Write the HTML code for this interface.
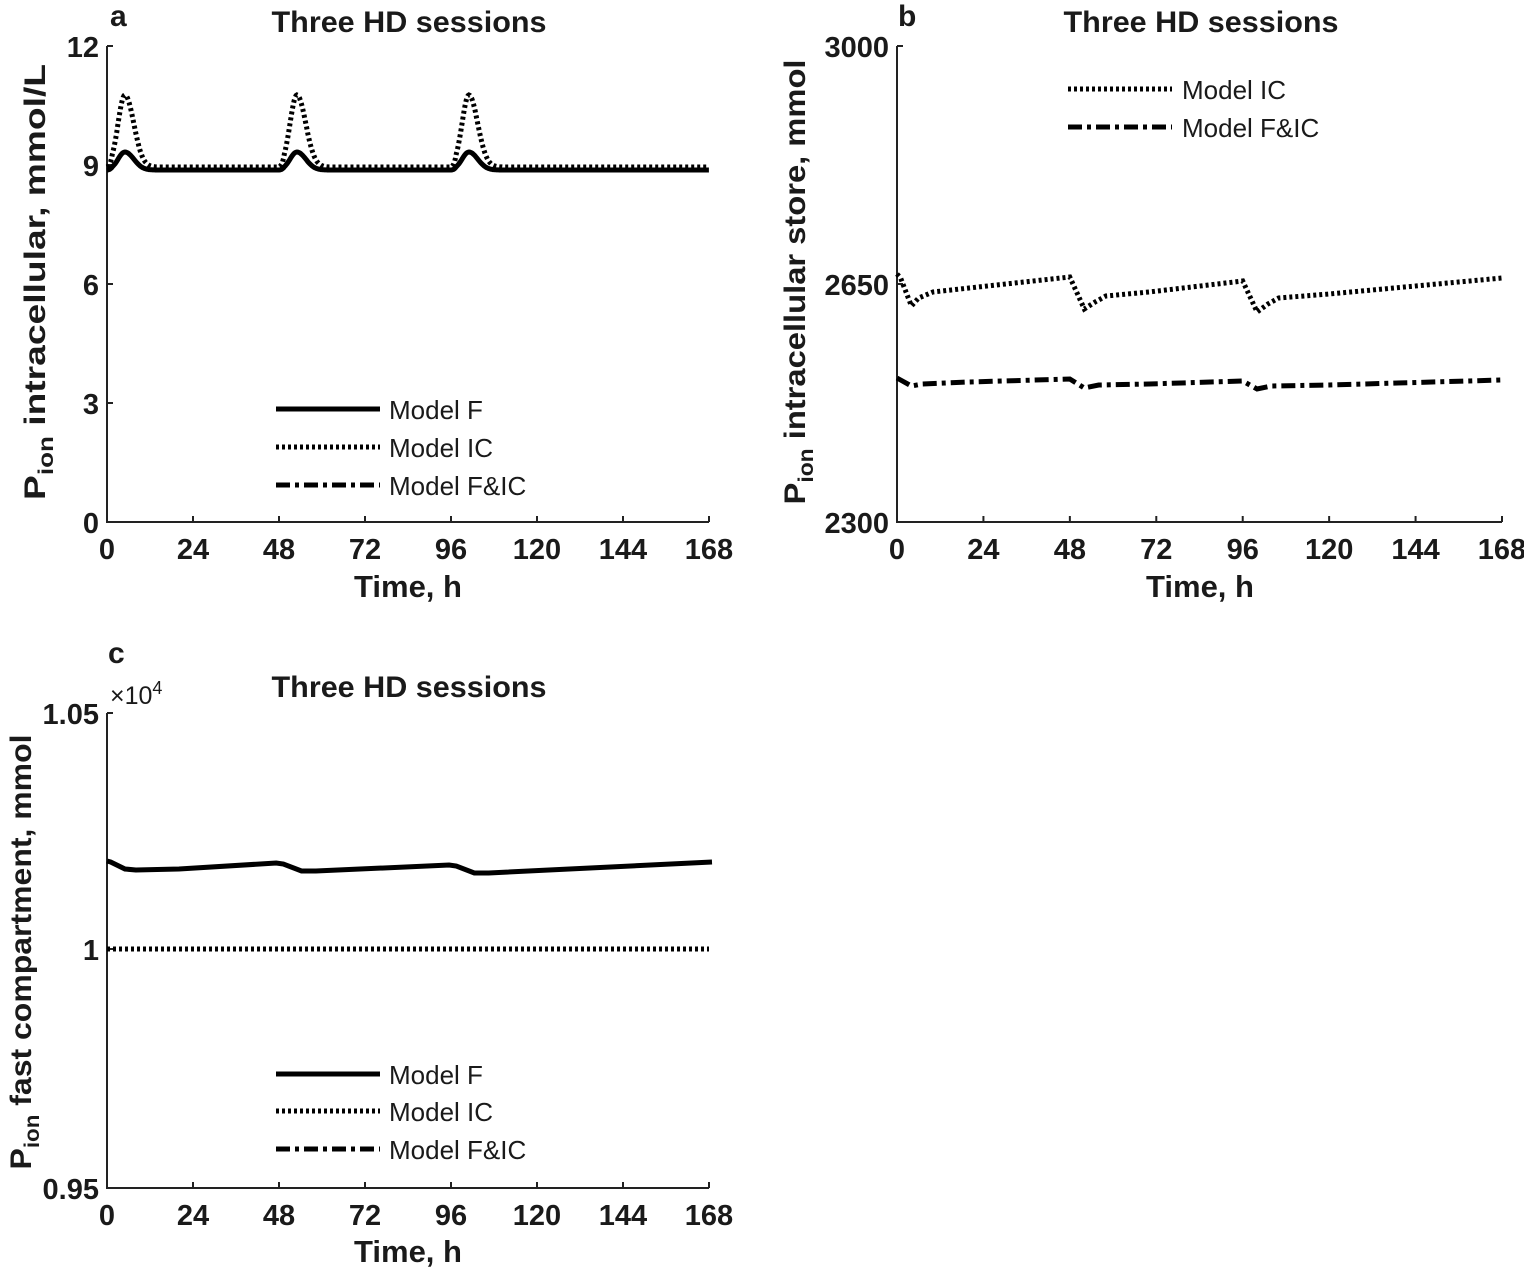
<!DOCTYPE html>
<html><head><meta charset="utf-8"><style>
html,body{margin:0;padding:0;background:#fff;}
svg{display:block;}
text{font-family:"Liberation Sans",sans-serif;fill:#1a1a1a;}
.b{font-weight:bold;}
</style></head><body>
<svg id="s" width="1524" height="1268" viewBox="0 0 1524 1268" xmlns="http://www.w3.org/2000/svg">
<g id="axes" stroke="#222" stroke-width="2" fill="none"></g>
<g id="lines" fill="none" stroke="#000"></g>
<g id="txt"></g>
<text x="110" y="26" class="b" font-size="30">a</text>
<text x="409" y="32" class="b" font-size="30" text-anchor="middle" textLength="275" lengthAdjust="spacingAndGlyphs">Three HD sessions</text>
<text x="898" y="26" class="b" font-size="30">b</text>
<text x="1201" y="32" class="b" font-size="30" text-anchor="middle" textLength="275" lengthAdjust="spacingAndGlyphs">Three HD sessions</text>
<text x="108" y="663" class="b" font-size="30">c</text>
<text x="409" y="697" class="b" font-size="30" text-anchor="middle" textLength="275" lengthAdjust="spacingAndGlyphs">Three HD sessions</text>
<text x="110" y="704" font-size="25">×10<tspan font-size="18" dy="-10">4</tspan></text>
<text x="408" y="597" class="b" font-size="31" text-anchor="middle">Time, h</text>
<text x="1200" y="597" class="b" font-size="31" text-anchor="middle">Time, h</text>
<text x="408" y="1262" class="b" font-size="31" text-anchor="middle">Time, h</text>
<text transform="translate(45,282) rotate(-90)" class="b" font-size="30" text-anchor="middle" textLength="436" lengthAdjust="spacingAndGlyphs">P<tspan font-size="21" dy="8">ion</tspan><tspan dy="-8"> intracellular, mmol/L</tspan></text>
<text transform="translate(805,282) rotate(-90)" class="b" font-size="30" text-anchor="middle" textLength="445" lengthAdjust="spacingAndGlyphs">P<tspan font-size="21" dy="8">ion</tspan><tspan dy="-8"> intracellular store, mmol</tspan></text>
<text transform="translate(31,952) rotate(-90)" class="b" font-size="30" text-anchor="middle" textLength="435" lengthAdjust="spacingAndGlyphs">P<tspan font-size="21" dy="8">ion</tspan><tspan dy="-8"> fast compartment, mmol</tspan></text>
<g font-size="26">
<text x="389" y="419">Model F</text>
<text x="389" y="457">Model IC</text>
<text x="389" y="495">Model F&amp;IC</text>
<text x="1182" y="99">Model IC</text>
<text x="1182" y="137">Model F&amp;IC</text>
<text x="389" y="1084">Model F</text>
<text x="389" y="1121">Model IC</text>
<text x="389" y="1159">Model F&amp;IC</text>
</g>
</svg>
<script>
const NS="http://www.w3.org/2000/svg";
const ax=document.getElementById('axes'),ln=document.getElementById('lines'),tx=document.getElementById('txt');
function el(p,tag,a,t){const e=document.createElementNS(NS,tag);for(const k in a)e.setAttribute(k,a[k]);if(t!==undefined)e.textContent=t;p.appendChild(e);return e;}
function axes(x0,x1,y0,y1,yt){
 el(ax,'path',{d:`M${x0},${y0} L${x0},${y1} L${x1},${y1}`});
 for(let i=0;i<=7;i++){const x=x0+(x1-x0)*i/7;el(ax,'line',{x1:x,y1:y1,x2:x,y2:y1-6});
  el(tx,'text',{x:x,y:y1+37,'text-anchor':'middle','font-size':29,class:'b'},String(i*24));}
 yt.forEach(([v,y])=>{el(ax,'line',{x1:x0,y1:y,x2:x0+6,y2:y});
  el(tx,'text',{x:x0-8,y:y+11,'text-anchor':'end','font-size':29,class:'b'},v);});
}
axes(107,709,46,522,[["0",522],["3",403],["6",284],["9",165],["12",46]]);
axes(897,1502,46,522,[["2300",522],["2650",284],["3000",46]]);
axes(107,709,713,1188,[["0.95",1188],["1",949],["1.05",713]]);
const S={solid:{'stroke-width':5},dot:{'stroke-width':5,'stroke-dasharray':'3 3'},dd:{'stroke-width':5,'stroke-dasharray':'14 5 4 5'}};
function poly(pts,st){el(ln,'path',Object.assign({d:'M'+pts.map(p=>p[0].toFixed(1)+','+p[1].toFixed(1)).join(' L')},st));}
function pa(amp,base,w){const pts=[];for(let t=0;t<=168;t+=0.25){let y=base;for(const s of [0,48,96]){const d=t-s-5;let v=0;
 if(d>-5)v=(d<0?Math.exp(-d*d/(2*w*w)):Math.exp(-d*d/(2*(w*1.3)*(w*1.3))));if(d<=-5)v=0;
 if(t-s>=0&&t-s<1.5)v*=(t-s)/1.5;y-=amp*v;}pts.push([107+t*3.583,y]);}return pts;}
poly(pa(72,167,1.9),S.dot);
poly(pa(18,170,1.9),S.solid);
function pb(vals){return vals.map(([t,y])=>[897+t*3.601,y]);}
poly(pb([[0,274],[1,278],[4,306],[6,298],[10,292],[20,288],[48,277],[52,309],[55,302],[58,296],[70,292],[96,281],[100,312],[103,304],[106,298],[120,294],[168,278]]),S.dot);
poly(pb([[0,378],[1,380],[4,386],[7,384],[20,382],[48,379],[52,388],[56,385],[70,384],[96,381],[100,389],[104,386],[120,385],[168,380]]),S.dd);
poly(pb([[0,861],[1,862],[5,869],[8,870],[20,869],[47,863],[49,864],[54,871],[58,871],[95,865],[97,866],[102,873],[106,873],[168,862]]).map(p=>[p[0]-790,p[1]]),S.solid);
poly([[107,949],[709,949]],S.dot);
function leg(x,y,st){poly([[x,y],[x+104,y]],st);}
leg(276,409,S.solid);leg(276,447,S.dot);leg(276,485,S.dd);
leg(1068,89,S.dot);leg(1068,127,S.dd);
leg(276,1074,S.solid);leg(276,1111,S.dot);leg(276,1149,S.dd);
</script>
</body></html>
